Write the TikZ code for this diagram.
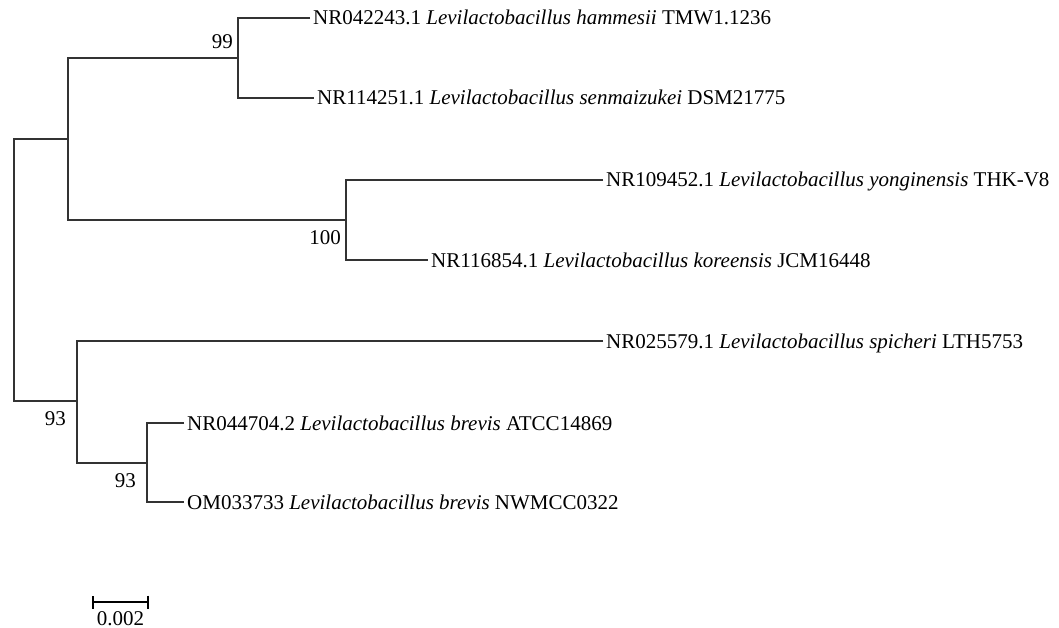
\documentclass[tikz,border=0pt]{standalone}
\usepackage{fontspec}
\setmainfont{Liberation Serif}
\usetikzlibrary{calc,arrows.meta}
\tikzset{
  branch/.style={draw=black!80,line width=1.8pt},
  leaf/.style={anchor=west,inner sep=3pt,text height=14pt,text depth=0pt,
    font=\fontsize{21}{24}\selectfont},
  boot/.style={anchor=east,inner sep=0pt,text height=14pt,text depth=0pt,
    font=\fontsize{21}{24}\selectfont}
}
\begin{document}
\begin{tikzpicture}[x=1pt,y=-1pt]
    \useasboundingbox (0,0) rectangle (1059,628);
    % inner nodes
    \coordinate (root) at (14,270);
    \coordinate (up) at (68,139);
    \coordinate (lo) at (77,401);
    \coordinate (n99) at (238,58);
    \coordinate (n100) at (346,220);
    \coordinate (n93) at (147,463);
    % leaves
    \node[leaf] (ham) at (310,18) {NR042243.1 \textit{Levilactobacillus hammesii} TMW1.1236};
    \node[leaf] (sen) at (314,98) {NR114251.1 \textit{Levilactobacillus senmaizukei} DSM21775};
    \node[leaf] (yon) at (603,180) {NR109452.1 \textit{Levilactobacillus yonginensis} THK-V8};
    \node[leaf] (kor) at (428,260) {NR116854.1 \textit{Levilactobacillus koreensis} JCM16448};
    \node[leaf] (spi) at (603,341) {NR025579.1 \textit{Levilactobacillus spicheri} LTH5753};
    \node[leaf] (atc) at (184,423) {NR044704.2 \textit{Levilactobacillus brevis} ATCC14869};
    \node[leaf] (nwm) at (184,502) {OM033733 \textit{Levilactobacillus brevis} NWMCC0322};
    % branches
    \draw[branch] (up) -| (root) |- (lo);
    \draw[branch] (n99) -| (up) |- (n100);
    \draw[branch] (ham.west) -| (n99) |- (sen.west);
    \draw[branch] (yon.west) -| (n100) |- (kor.west);
    \draw[branch] (spi.west) -| (lo) |- (n93);
    \draw[branch] (atc.west) -| (n93) |- (nwm.west);
    % bootstrap values
    \node[boot] (b99) at ([shift={(-5,-16)}]n99) {99};
    \node[boot] (b100) at ([shift={(-5,17)}]n100) {100};
    \node[boot] (b93a) at ([shift={(-11,17)}]lo) {93};
    \node[boot] (b93b) at ([shift={(-11,17)}]n93) {93};
    % scale bar
    \coordinate (sa) at (92,602);
    \coordinate (sb) at (149,602);
    \draw[black,line width=1.8pt,arrows={Bar[width=13pt]-Bar[width=13pt]}] (sa) -- (sb);
    \node[boot,anchor=north] (sc) at ($(sa)!.5!(sb)+(0,9)$) {0.002};
\end{tikzpicture}
\end{document}
